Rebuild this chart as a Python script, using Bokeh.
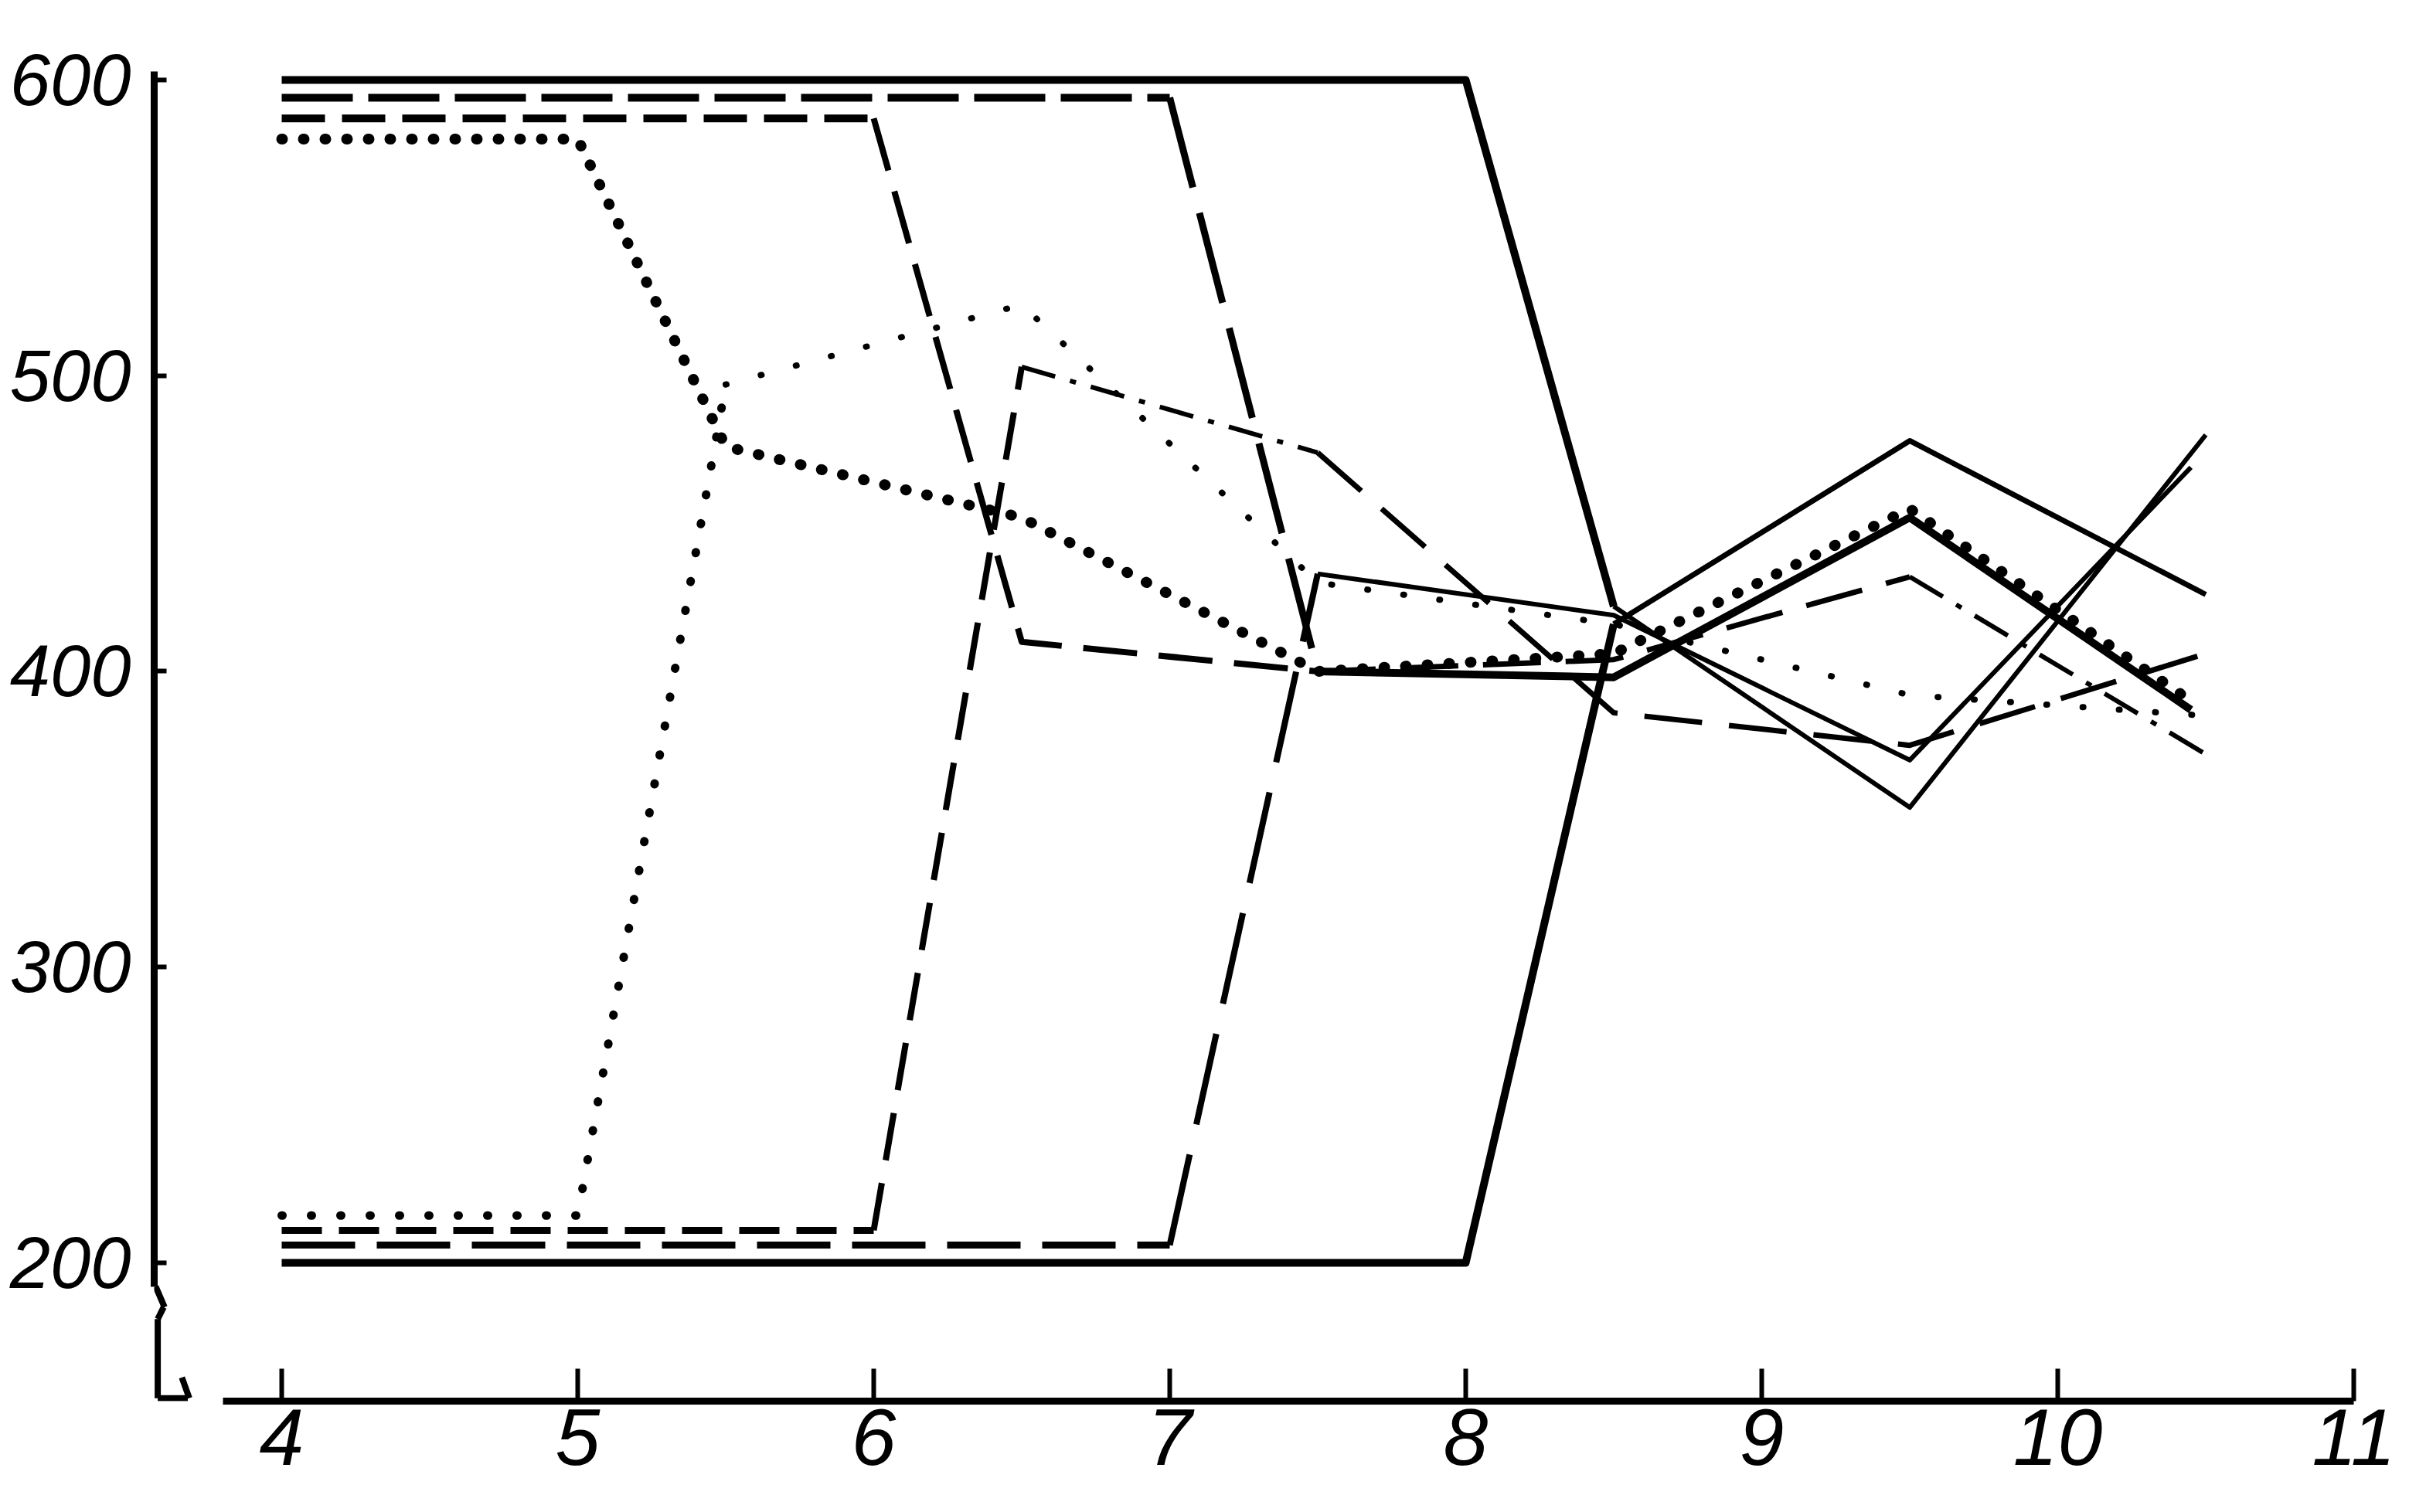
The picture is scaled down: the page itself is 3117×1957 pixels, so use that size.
from bokeh.plotting import figure
from bokeh.models import Range1d, FixedTicker, Arrow
from bokeh.embed import file_html
from bokeh.resources import INLINE

# ---------------- data ----------------
x_ticks = [4, 5, 6, 7, 8, 9, 10, 11]
y_ticks = [200, 300, 400, 500, 600]

solid_top_x = [4, 8, 8.5, 9.5, 10.5]
solid_top_y = [600, 600, 422, 354, 480]
solid_bot_x = [4, 8, 8.5, 9.5, 10.5]
solid_bot_y = [200, 200, 416, 478, 426]

long_top_x = [4, 7, 7.5, 8.5, 9.5, 10.45]
long_top_y = [594, 594, 400, 398, 452, 387]
long_bot_x = [4, 7, 7.5, 8.5, 9.5, 10.45]
long_bot_y = [206, 206, 433, 419, 370, 469]

med_top_x = [4, 6, 6.5, 7.5, 8.5, 9.5, 10.5]
med_top_y = [587, 587, 410, 400, 404, 432, 372]
med_bot_x = [4, 6, 6.5, 7.5, 8.5, 9.5, 10.5]
med_bot_y = [211, 211, 503, 474, 386, 375, 406]

dot_top_x = [4, 5, 5.5, 6.5, 7.5, 8.5, 9.5, 10.45]
dot_top_y = [580, 580, 476, 452, 400, 406, 455, 390]
dot_bot_x = [4, 5, 5.5, 6.5, 7.5, 8.5, 9.5, 10.5]
dot_bot_y = [216, 216, 497, 524, 430, 416, 392, 385]

# ---------------- styles (segments: first idx, last idx, dash, width) ----------------
STYLES = [
    (solid_top_x, solid_top_y, [(0, 2, "solid", 10), (2, 4, "solid", 6)]),
    (solid_bot_x, solid_bot_y, [(0, 2, "solid", 10), (2, 4, "solid", 7)]),
    (long_top_x, long_top_y, [(0, 1, "92 20", 10), (1, 2, "120 34", 9), (2, 5, "solid", 10)]),
    (long_bot_x, long_bot_y, [(0, 1, "95 28", 9), (1, 2, "120 40", 8), (2, 5, "solid", 6)]),
    (med_top_x, med_top_y, [(0, 1, "56 22", 10), (1, 3, "70 28", 8), (3, 5, "75 32", 7), (5, 6, "50 20 8 20", 6)]),
    (med_bot_x, med_bot_y, [(0, 1, "52 22", 9), (1, 2, "62 30", 8), (2, 3, "45 20 8 20", 6), (3, 6, "75 35", 7)]),
    (dot_top_x, dot_top_y, [(0, 7, "1 27", 14)]),
    (dot_bot_x, dot_bot_y, [(0, 2, "1 37", 11), (2, 7, "1 46", 8)]),
]

# ---------------- geometry ----------------
W, H = 3116, 1950
X0, X1 = 3.5692, 11.1018
Y0, Y1 = 153.23, 614.37

p = figure(width=W, height=H, output_backend="svg", toolbar_location=None,
           x_range=Range1d(X0, X1), y_range=Range1d(Y0, Y1),
           min_border_left=199, min_border_right=32, min_border_top=48,
           min_border_bottom=137)
p.outline_line_color = None
p.grid.visible = False
p.background_fill_color = "white"
p.border_fill_color = "white"

for xs, ys, segs in STYLES:
    for a, b, dash, w in segs:
        p.line(xs[a:b + 1], ys[a:b + 1], line_color="black", line_width=w,
               line_dash=dash, line_cap="round" if dash.startswith("1 ") else "butt",
               line_join="round")

font = "Liberation Sans"
xa = p.xaxis[0]
xa.ticker = FixedTicker(ticks=x_ticks)
xa.bounds = (3.8016, 11)
xa.axis_line_width = 9
xa.major_tick_line_width = 6
xa.major_tick_in = 42
xa.major_tick_out = 0
xa.minor_tick_line_color = None
xa.major_label_text_font = font
xa.major_label_text_font_style = "italic"
xa.major_label_text_font_size = "104px"
xa.major_label_text_color = "black"
xa.major_label_standoff = 10

ya = p.yaxis[0]
ya.ticker = FixedTicker(ticks=y_ticks)
ya.bounds = (192, 603)
ya.axis_line_width = 9
ya.major_tick_line_width = 6
ya.major_tick_in = 16
ya.major_tick_out = 0
ya.minor_tick_line_color = None
ya.major_label_text_font = font
ya.major_label_text_font_style = "italic"
ya.major_label_text_font_size = "94px"
ya.major_label_text_color = "black"
ya.major_label_standoff = 30

# axis break / corner decorations (drawn just inside the frame)
XL = X0 + 0.012
XF = 3.6828
YB = Y0 + 1.0
decor = [
    (XL, 181, XL, YB),
    (XL, YB, XF, YB),
    (XF - 0.02, YB + 7, XF + 0.005, YB),
    (X0 + 0.005, 192, X0 + 0.035, 185),
    (XL, 181, XL + 0.02, 185),
]
for xs_, ys_, xe_, ye_ in decor:
    p.add_layout(Arrow(end=None, x_start=xs_, y_start=ys_, x_end=xe_, y_end=ye_,
                       line_width=8, line_color="black"))

open("out.html", "w").write(file_html(p, INLINE))
